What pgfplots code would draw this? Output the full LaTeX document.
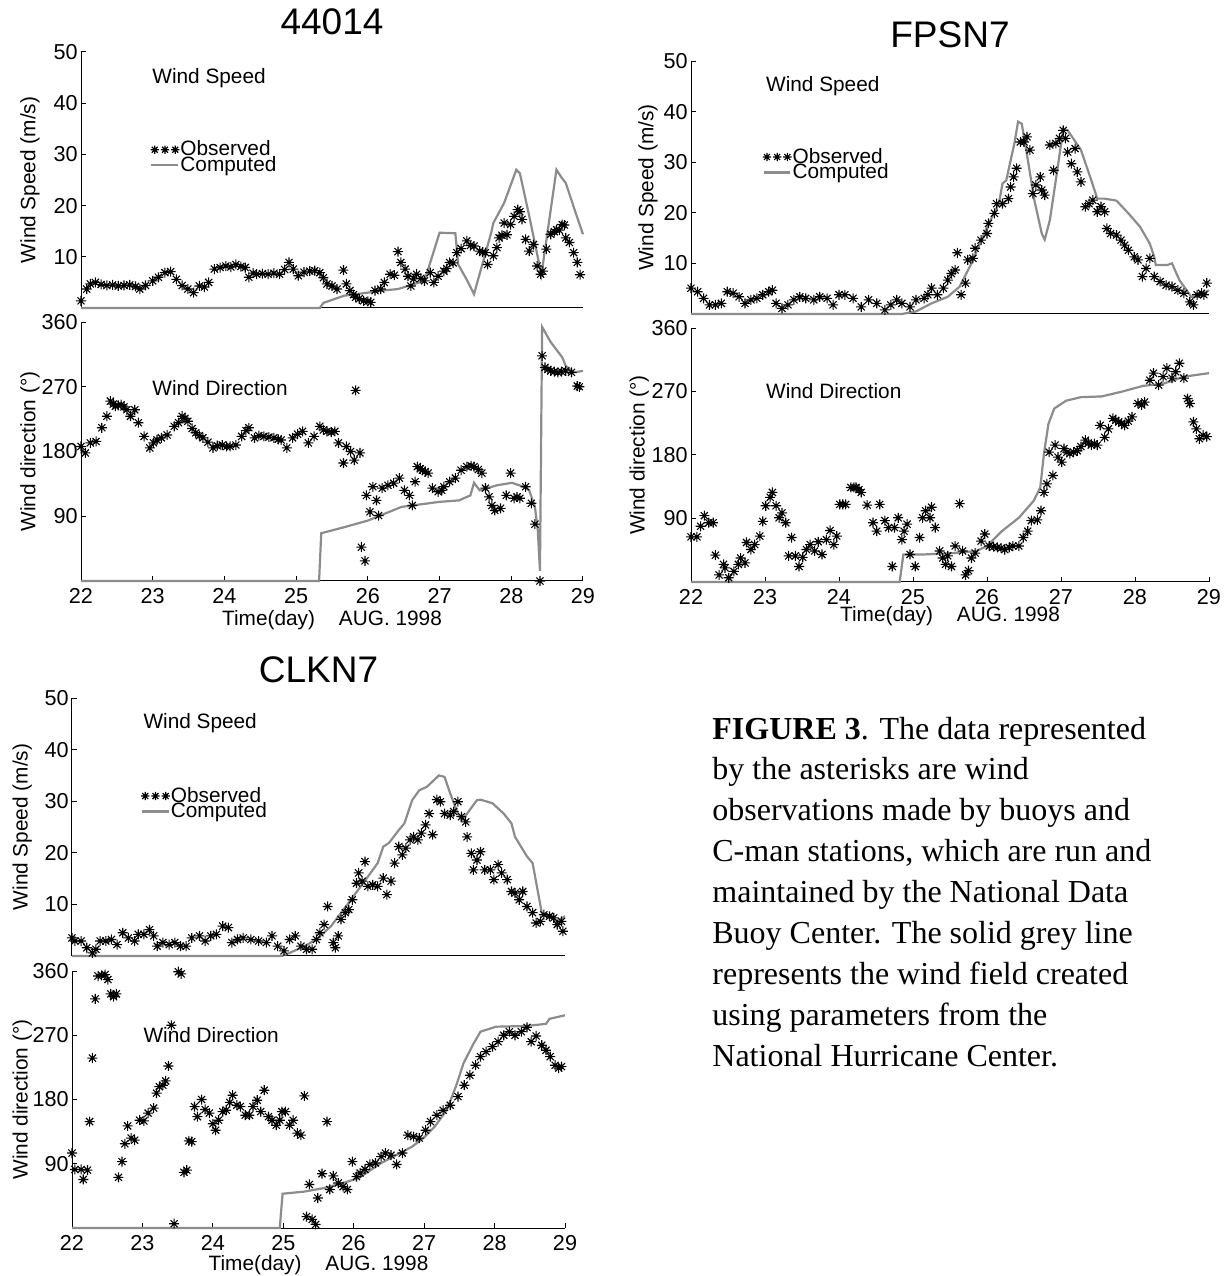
\documentclass[border=0pt]{standalone}
\usepackage{pgfplots}
\pgfplotsset{compat=1.18}
\usepackage{fontspec}
\setmainfont{Liberation Sans}
\newfontfamily\capfont{Liberation Serif}
\definecolor{compgray}{RGB}{140,140,140}
\newcommand{\ticklab}{\fontsize{10.8}{12}\selectfont}
\newcommand{\lab}{\fontsize{10.4}{12}\selectfont}
\newcommand{\ttl}{\fontsize{18.5}{20}\selectfont}
\pgfdeclareplotmark{mstar}{%
 \pgfpathmoveto{\pgfqpoint{-\pgfplotmarksize}{0pt}}\pgfpathlineto{\pgfqpoint{\pgfplotmarksize}{0pt}}%
 \pgfpathmoveto{\pgfqpoint{0pt}{-\pgfplotmarksize}}\pgfpathlineto{\pgfqpoint{0pt}{\pgfplotmarksize}}%
 \pgfpathmoveto{\pgfqpoint{-.7071\pgfplotmarksize}{-.7071\pgfplotmarksize}}\pgfpathlineto{\pgfqpoint{.7071\pgfplotmarksize}{.7071\pgfplotmarksize}}%
 \pgfpathmoveto{\pgfqpoint{-.7071\pgfplotmarksize}{.7071\pgfplotmarksize}}\pgfpathlineto{\pgfqpoint{.7071\pgfplotmarksize}{-.7071\pgfplotmarksize}}%
 \pgfusepathqstroke}
\begin{document}
\begin{tikzpicture}
\useasboundingbox (0pt,0pt) rectangle (613.5pt,638pt);
\pgfplotsset{
  common/.style={scale only axis, xmin=22, xmax=29,
    axis x line*=bottom, axis y line*=left,
    axis line style={-, line width=0.5pt, black},
    tick align=inside, major tick length=2.5pt,
    tick style={black, line width=0.5pt},
    clip=false,
    tick label style={font=\ticklab},
    /pgf/number format/assume math mode=true,
    yticklabel style={inner sep=1.5pt},
    label style={font=\lab},
    every axis title shift=0pt,
  },
  speed/.style={common, ymin=0, ymax=50, ytick={10,20,30,40,50}, xtick=\empty,
    ylabel={Wind Speed (m/s)}},
  dir/.style={common, ymin=0, ymax=360, ytick={90,180,270,360}, xtick={22,23,24,25,26,27,28,29},
    ylabel={Wind direction (°)}, xlabel={Time(day)\hspace{12pt}AUG. 1998}},
  obs/.style={only marks, mark=mstar, mark size=2.5pt, black, mark options={line width=0.55pt},
    legend image code/.code={\draw[mark repeat=1,mark phase=1,mark size=2.1pt] plot coordinates {(0.06cm,0cm) (0.24cm,0cm) (0.42cm,0cm)};}},
  comp/.style={no markers, compgray, line width=1.1pt,
    legend image code/.code={\draw[compgray, line width=1.1pt] (0cm,0cm) -- (0.47cm,0cm);}},
  leg/.style={legend style={draw=none, fill=none, at={#1}, anchor=west, font=\lab,
    row sep=-2.3pt, inner sep=0pt, nodes={inner sep=0.5pt}, column sep=0pt}, legend cell align=left},
}
% ===================== 44014 =====================
\begin{axis}[speed, at={(40.5pt,484pt)}, anchor=south west, width=251pt, height=128pt,
  ylabel style={at={(axis description cs:-0.1016,0.5)}, anchor=center},
  title={44014}, title style={at={(axis description cs:0.5,1)}, anchor=center, yshift=15pt, font=\ttl},
  leg={(axis cs:22.96,29.4)}]
\addplot[obs] coordinates {(22.0,1.4) (22.08,3.7) (22.13,4.7) (22.2,5.0) (22.28,4.6) (22.36,4.4) (22.44,4.5) (22.52,4.3) (22.6,4.4) (22.68,4.5) (22.76,4.2) (22.82,3.7) (22.9,4.4) (23.0,5.3) (23.08,6.0) (23.17,6.9) (23.25,7.1) (23.33,5.6) (23.41,4.4) (23.49,3.7) (23.57,3.0) (23.65,4.3) (23.72,4.1) (23.78,5.0) (23.86,7.6) (23.94,7.9) (24.02,8.2) (24.09,8.0) (24.16,8.5) (24.23,8.1) (24.29,7.9) (24.34,6.0) (24.4,6.8) (24.45,6.6) (24.53,6.7) (24.61,6.6) (24.69,6.8) (24.77,6.6) (24.84,7.5) (24.9,8.9) (24.96,7.6) (25.03,6.3) (25.11,7.0) (25.19,7.2) (25.26,7.3) (25.33,6.9) (25.38,5.9) (25.43,4.7) (25.5,4.3) (25.57,3.7) (25.66,7.4) (25.7,4.7) (25.75,3.4) (25.8,2.6) (25.83,2.1) (25.88,1.8) (25.94,1.4) (26.0,1.3) (26.04,1.1) (26.1,3.4) (26.18,3.7) (26.23,5.0) (26.31,6.6) (26.37,6.4) (26.42,11.0) (26.46,8.9) (26.52,7.6) (26.56,6.2) (26.6,4.3) (26.64,5.7) (26.68,6.6) (26.74,5.8) (26.79,5.3) (26.87,6.9) (26.92,5.0) (26.98,6.2) (27.06,7.2) (27.1,7.7) (27.14,8.9) (27.19,8.8) (27.24,10.8) (27.3,11.6) (27.38,13.1) (27.43,12.2) (27.48,12.1) (27.56,11.1) (27.6,10.9) (27.64,10.8) (27.67,8.5) (27.75,10.2) (27.8,11.8) (27.83,13.7) (27.87,14.2) (27.9,16.6) (27.94,14.3) (27.99,16.3) (28.04,17.9) (28.09,19.2) (28.12,18.8) (28.15,17.3) (28.2,13.4) (28.25,11.1) (28.31,12.4) (28.36,8.2) (28.41,6.6) (28.44,7.2) (28.49,11.5) (28.55,14.4) (28.6,14.9) (28.63,15.3) (28.67,15.2) (28.71,16.3) (28.74,16.2) (28.76,13.7) (28.81,12.8) (28.87,10.8) (28.92,8.9) (28.96,6.5)};
\addlegendentry{Observed}
\addplot[comp] coordinates {(22,0) (25.33,0) (25.38,1.0) (25.67,2.4) (26.0,3.0) (26.2,3.4) (26.42,3.7) (26.79,5.3) (27.0,14.7) (27.22,14.6) (27.26,8.5) (27.38,5.5) (27.48,2.7) (27.72,14.7) (27.75,16.6) (27.9,20.5) (28.07,27.0) (28.12,26.3) (28.25,18.0) (28.42,6.5) (28.63,27.0) (28.7,25.5) (28.76,24.4) (28.9,18.5) (29.0,14.4)};
\addlegendentry{Computed}
\node[anchor=west, inner sep=0pt, font=\lab] at (axis cs:22.99,44.9) {Wind Speed};
\end{axis}
\begin{axis}[dir, at={(40.5pt,347.5pt)}, anchor=south west, width=251pt, height=129.5pt,
  ylabel style={at={(axis description cs:-0.1016,0.5)}, anchor=center},
  xlabel style={at={(axis description cs:0.5,-0.15)}, anchor=center}]
\addplot[obs] coordinates {(22.0,187) (22.06,178) (22.13,192) (22.21,194) (22.29,213) (22.36,229) (22.41,250) (22.45,246) (22.48,243) (22.52,244) (22.56,245) (22.6,242) (22.64,238) (22.69,229) (22.75,238) (22.8,220) (22.88,201) (22.96,185) (23.01,192) (23.06,196) (23.12,199) (23.2,203) (23.3,215) (23.36,220) (23.41,229) (23.45,226) (23.49,222) (23.55,212) (23.6,206) (23.65,202) (23.7,199) (23.77,193) (23.84,185) (23.9,188) (23.97,189) (24.03,187) (24.08,187) (24.16,189) (24.24,201) (24.3,209) (24.34,213) (24.42,199) (24.48,202) (24.55,201) (24.62,200) (24.69,199) (24.75,197) (24.79,196) (24.87,185) (24.95,199) (25.02,204) (25.09,208) (25.17,192) (25.25,201) (25.33,215) (25.38,210) (25.43,208) (25.49,207) (25.54,208) (25.59,192) (25.66,164) (25.7,187) (25.76,180) (25.81,168) (25.83,265) (25.89,178) (25.91,47) (25.96,28) (25.98,119) (26.03,96) (26.07,131) (26.12,112) (26.15,91) (26.2,129) (26.28,133) (26.36,136) (26.44,143) (26.51,126) (26.58,119) (26.62,105) (26.66,138) (26.69,159) (26.73,156) (26.76,154) (26.8,152) (26.84,150) (26.9,129) (26.98,124) (27.03,126) (27.06,131) (27.14,138) (27.22,143) (27.3,154) (27.38,159) (27.44,160) (27.48,159) (27.54,155) (27.59,150) (27.64,129) (27.69,117) (27.73,105) (27.77,98) (27.85,101) (27.93,119) (27.99,150) (28.04,115) (28.08,117) (28.12,115) (28.2,131) (28.28,108) (28.33,79) (28.4,0) (28.43,313) (28.47,297) (28.51,294) (28.55,292) (28.6,291) (28.65,290) (28.7,291) (28.76,292) (28.84,290) (28.92,271) (28.95,270)};
\addplot[comp] coordinates {(22,0) (25.32,0) (25.35,66.4) (25.67,74.8) (26.0,84) (26.47,103) (27.0,110) (27.27,112) (27.43,119) (27.48,136.5) (27.56,126) (27.8,133) (28.01,136.5) (28.17,131) (28.25,126) (28.33,103) (28.37,70) (28.4,14) (28.43,353) (28.55,332) (28.71,311) (28.76,299) (28.87,290) (29.0,292)};
\node[anchor=west, inner sep=0pt, font=\lab] at (axis cs:22.99,268) {Wind Direction};
\end{axis}
% ===================== FPSN7 =====================
\begin{axis}[speed, at={(345.5pt,481pt)}, anchor=south west, width=259pt, height=126.5pt,
  ylabel style={at={(axis description cs:-0.083,0.5)}, anchor=center},
  title={FPSN7}, title style={at={(axis description cs:0.5,1)}, anchor=center, yshift=13pt, font=\ttl},
  leg={(axis cs:22.96,29.5)}]
\addplot[obs] coordinates {(22.0,5.1) (22.09,4.4) (22.17,3.1) (22.25,1.8) (22.33,1.8) (22.41,2.1) (22.49,4.4) (22.57,4.1) (22.65,3.4) (22.73,2.1) (22.81,2.8) (22.89,3.1) (22.97,3.8) (23.05,4.4) (23.1,4.7) (23.15,2.1) (23.23,1.1) (23.31,1.8) (23.39,2.8) (23.47,3.4) (23.55,3.1) (23.66,2.8) (23.74,3.4) (23.84,3.1) (23.92,1.8) (24.0,3.8) (24.08,3.8) (24.19,3.1) (24.3,1.4) (24.4,2.8) (24.51,2.1) (24.62,0.8) (24.7,1.8) (24.78,2.8) (24.85,2.1) (24.96,1.4) (25.04,2.8) (25.15,3.1) (25.2,3.8) (25.25,5.1) (25.33,3.8) (25.41,5.1) (25.47,6.7) (25.52,8.0) (25.57,8.7) (25.6,12.1) (25.65,3.8) (25.71,6.1) (25.74,10.7) (25.81,11.0) (25.84,13.0) (25.92,14.6) (26.0,15.9) (26.02,17.9) (26.1,19.9) (26.13,21.8) (26.21,21.8) (26.29,22.8) (26.32,25.1) (26.36,27.1) (26.4,28.8) (26.45,34.0) (26.5,34.0) (26.54,35.0) (26.58,32.4) (26.62,23.8) (26.66,25.5) (26.72,27.1) (26.74,24.5) (26.78,23.5) (26.85,33.4) (26.9,28.4) (26.93,33.7) (26.98,34.7) (27.03,36.3) (27.06,34.7) (27.09,32.0) (27.14,29.7) (27.19,32.7) (27.22,28.1) (27.27,26.1) (27.33,21.2) (27.38,21.8) (27.43,22.5) (27.49,20.2) (27.54,21.2) (27.59,20.2) (27.62,16.9) (27.67,15.9) (27.75,15.6) (27.81,14.6) (27.86,13.6) (27.91,12.6) (27.99,11.3) (28.04,10.7) (28.1,7.4) (28.15,9.0) (28.2,11.0) (28.26,7.4) (28.34,6.4) (28.42,5.7) (28.5,5.4) (28.58,4.7) (28.66,4.1) (28.74,2.4) (28.79,1.8) (28.84,3.8) (28.9,4.1) (28.93,3.8) (28.97,6.1)};
\addlegendentry{Observed}
\addplot[comp] coordinates {(22,0) (24.85,0) (25.04,0.5) (25.25,2.1) (25.47,3.4) (25.63,5.4) (25.79,10.0) (26.0,17.2) (26.16,21.8) (26.21,25.8) (26.26,26.4) (26.37,33.7) (26.42,38.0) (26.47,37.6) (26.53,32.4) (26.64,22.5) (26.74,15.9) (26.78,14.7) (26.85,18.6) (26.95,28.4) (27.03,36.6) (27.09,36.3) (27.27,32.4) (27.41,26.4) (27.49,22.8) (27.59,22.8) (27.75,22.4) (27.91,19.9) (28.07,17.2) (28.2,13.9) (28.26,11.3) (28.28,9.7) (28.44,9.7) (28.5,10.0) (28.6,6.7) (28.76,3.4) (28.87,3.4) (29.0,4.7)};
\addlegendentry{Computed}
\node[anchor=west, inner sep=0pt, font=\lab] at (axis cs:23.01,45.1) {Wind Speed};
\end{axis}
\begin{axis}[dir, at={(345.5pt,347pt)}, anchor=south west, width=259pt, height=127pt,
  ylabel style={at={(axis description cs:-0.1,0.5)}, anchor=center},
  xlabel style={at={(axis description cs:0.5,-0.135)}, anchor=center}]
\addplot[obs] coordinates {(22.0,64) (22.08,64) (22.13,79) (22.18,94) (22.24,84) (22.3,84) (22.33,38) (22.38,10) (22.44,25) (22.46,20) (22.51,6) (22.58,15) (22.64,25) (22.67,34) (22.73,27) (22.75,56) (22.81,46) (22.86,53) (22.93,65) (22.97,86) (23.01,108) (23.07,120) (23.1,127) (23.15,108) (23.19,91) (23.23,98) (23.28,84) (23.32,37) (23.36,63) (23.41,37) (23.46,22) (23.51,35) (23.56,46) (23.61,53) (23.67,44) (23.72,57) (23.77,39) (23.83,60) (23.88,73) (23.93,53) (23.97,65) (24.01,110) (24.05,110) (24.09,110) (24.16,134) (24.2,134) (24.23,134) (24.27,131) (24.3,127) (24.38,109) (24.46,84) (24.51,72) (24.55,110) (24.62,87) (24.67,77) (24.72,22) (24.75,77) (24.8,91) (24.85,60) (24.88,72) (24.92,82) (24.96,39) (25.03,22) (25.09,63) (25.13,91) (25.17,101) (25.23,91) (25.25,106) (25.3,77) (25.36,44) (25.4,34) (25.44,25) (25.47,37) (25.52,22) (25.57,51) (25.63,111) (25.67,44) (25.71,10) (25.75,16) (25.79,34) (25.84,41) (25.92,58) (25.97,68) (26.03,51) (26.09,50) (26.14,49) (26.19,48) (26.24,46) (26.3,49) (26.35,51) (26.43,51) (26.49,63) (26.55,72) (26.6,87) (26.68,88) (26.73,101) (26.77,127) (26.81,139) (26.84,184) (26.89,151) (26.92,194) (26.96,177) (27.01,170) (27.04,189) (27.08,184) (27.12,182) (27.17,184) (27.22,186) (27.27,192) (27.33,201) (27.37,197) (27.41,194) (27.45,196) (27.49,194) (27.53,222) (27.59,205) (27.64,217) (27.7,232) (27.74,229) (27.78,227) (27.82,225) (27.86,222) (27.91,228) (27.96,234) (28.04,253) (28.09,251) (28.13,255) (28.2,286) (28.25,296) (28.32,279) (28.38,291) (28.43,303) (28.5,289) (28.55,298) (28.6,310) (28.66,289) (28.71,260) (28.74,253) (28.79,227) (28.83,217) (28.87,203) (28.92,208) (28.97,206)};
\addplot[comp] coordinates {(22,0) (24.82,0) (24.87,39) (25.14,39) (25.55,41) (25.86,44) (26.0,51) (26.2,72) (26.43,91) (26.63,115) (26.72,134) (26.77,182) (26.83,224) (26.91,246) (27.07,257) (27.27,262) (27.55,263) (27.83,270) (28.11,278) (28.38,281) (28.66,291) (29.0,296)};
\node[anchor=west, inner sep=0pt, font=\lab] at (axis cs:23.01,270.7) {Wind Direction};
\end{axis}
% ===================== CLKN7 =====================
\begin{axis}[speed, at={(36pt,160pt)}, anchor=south west, width=246.5pt, height=129pt,
  ylabel style={at={(axis description cs:-0.101,0.5)}, anchor=center},
  title={CLKN7}, title style={at={(axis description cs:0.5,1)}, anchor=center, yshift=14pt, font=\ttl},
  leg={(axis cs:22.97,29.5)}]
\addplot[obs] coordinates {(22.0,3.5) (22.04,2.9) (22.13,2.9) (22.21,1.6) (22.29,0.6) (22.34,1.3) (22.4,2.9) (22.48,2.9) (22.56,3.2) (22.64,2.2) (22.72,4.5) (22.8,3.5) (22.89,2.9) (22.94,4.2) (23.02,4.2) (23.1,5.1) (23.16,3.9) (23.21,1.9) (23.29,2.6) (23.38,2.2) (23.46,2.6) (23.54,1.9) (23.62,1.9) (23.7,3.5) (23.81,3.9) (23.89,2.9) (23.97,3.9) (24.05,4.2) (24.14,5.8) (24.22,5.5) (24.27,2.6) (24.35,3.2) (24.43,3.5) (24.54,3.2) (24.65,2.9) (24.76,2.6) (24.84,3.9) (24.92,1.9) (25.01,1.0) (25.09,3.2) (25.17,3.9) (25.25,1.9) (25.33,1.3) (25.41,1.3) (25.47,3.2) (25.52,4.5) (25.58,6.1) (25.63,9.6) (25.71,2.6) (25.74,1.6) (25.78,3.9) (25.82,7.1) (25.88,8.4) (25.93,9.0) (25.98,10.9) (26.04,14.1) (26.07,16.1) (26.12,14.5) (26.16,18.3) (26.2,13.5) (26.27,13.8) (26.34,13.5) (26.42,15.1) (26.47,11.9) (26.53,14.5) (26.58,18.0) (26.64,21.2) (26.69,19.6) (26.74,20.9) (26.8,22.5) (26.85,23.1) (26.91,22.5) (26.96,23.8) (27.02,25.4) (27.07,27.6) (27.12,23.5) (27.18,30.3) (27.23,29.9) (27.29,27.6) (27.37,27.3) (27.42,28.0) (27.48,29.9) (27.53,27.0) (27.59,26.0) (27.61,23.1) (27.67,19.9) (27.7,16.7) (27.75,18.6) (27.8,20.2) (27.86,16.7) (27.94,16.7) (27.99,14.8) (28.05,17.7) (28.1,16.1) (28.18,14.8) (28.24,12.5) (28.29,12.2) (28.35,10.9) (28.4,12.5) (28.46,9.6) (28.54,8.4) (28.59,6.4) (28.65,6.7) (28.7,8.0) (28.78,7.7) (28.84,7.4) (28.89,6.1) (28.95,6.7) (28.97,4.8)};
\addlegendentry{Observed}
\addplot[comp] coordinates {(22,0) (24.98,0) (25.09,0.6) (25.3,1.9) (25.47,3.2) (25.68,5.8) (25.96,10.9) (26.17,14.8) (26.34,18.0) (26.42,21.2) (26.5,21.9) (26.64,24.4) (26.72,25.7) (26.83,30.2) (26.93,32.1) (27.04,32.8) (27.21,35.0) (27.29,34.7) (27.37,31.5) (27.48,27.6) (27.53,26.3) (27.61,27.6) (27.75,30.2) (27.8,30.3) (27.97,29.6) (28.13,27.6) (28.24,25.7) (28.29,23.1) (28.46,19.3) (28.54,18.0) (28.67,8.4) (28.78,7.7) (28.89,6.7) (29.0,7.7)};
\addlegendentry{Computed}
\node[anchor=west, inner sep=0pt, font=\lab] at (axis cs:23.01,45.2) {Wind Speed};
\end{axis}
\begin{axis}[dir, at={(36pt,24pt)}, anchor=south west, width=246.5pt, height=128.5pt,
  ylabel style={at={(axis description cs:-0.101,0.5)}, anchor=center},
  xlabel style={at={(axis description cs:0.5,-0.144)}, anchor=center}]
\addplot[obs] coordinates {(22.0,105) (22.04,82) (22.13,82) (22.16,68) (22.22,81) (22.25,149) (22.29,238) (22.33,321) (22.37,353) (22.42,354) (22.47,355) (22.51,348) (22.55,328) (22.59,324) (22.63,328) (22.66,71) (22.71,93) (22.75,118) (22.79,143) (22.84,126) (22.89,123) (22.96,151) (23.02,150) (23.08,161) (23.16,168) (23.2,189) (23.24,198) (23.29,200) (23.33,206) (23.37,227) (23.41,284) (23.45,6) (23.51,359) (23.55,356) (23.59,78) (23.63,81) (23.66,122) (23.7,121) (23.74,170) (23.78,156) (23.84,180) (23.89,166) (23.95,161) (24.0,146) (24.04,137) (24.08,151) (24.14,163) (24.19,165) (24.24,176) (24.28,186) (24.34,172) (24.39,170) (24.46,158) (24.52,158) (24.57,170) (24.63,179) (24.68,163) (24.73,193) (24.79,156) (24.84,151) (24.9,144) (24.95,151) (24.98,163) (25.03,163) (25.09,144) (25.14,151) (25.2,133) (25.25,130) (25.3,185) (25.33,16) (25.37,61) (25.41,12) (25.46,5) (25.49,42) (25.55,76) (25.62,149) (25.66,54) (25.71,73) (25.78,63) (25.85,58) (25.91,54) (25.98,93) (26.04,72) (26.09,77) (26.16,82) (26.23,89) (26.31,91) (26.39,100) (26.45,105) (26.53,102) (26.61,89) (26.69,105) (26.77,130) (26.85,128) (26.93,126) (27.02,137) (27.09,149) (27.18,158) (27.27,165) (27.37,172) (27.48,184) (27.57,200) (27.65,214) (27.73,228) (27.8,240) (27.88,247) (27.97,254) (28.05,261) (28.13,270) (28.21,275) (28.29,270) (28.38,275) (28.46,281) (28.52,261) (28.59,269) (28.67,256) (28.73,249) (28.79,240) (28.86,228) (28.91,224) (28.95,226)};
\addplot[comp] coordinates {(22,0) (24.95,0) (24.99,48) (25.3,51) (25.58,56) (25.85,63) (26.07,70) (26.39,91) (26.66,105) (26.83,114) (26.99,126) (27.15,142) (27.32,165) (27.45,198) (27.56,231) (27.7,258) (27.8,275) (28.02,282) (28.46,283) (28.73,286) (28.78,293) (29.0,298)};
\node[anchor=west, inner sep=0pt, font=\lab] at (axis cs:23.01,270.3) {Wind Direction};
\end{axis}
% ===================== caption =====================
\begin{scope}[every node/.style={anchor=base west, inner sep=0pt, font=\capfont\fontsize{16}{20}\selectfont}]
\node at (356pt,268pt) {\textbf{FIGURE 3}. The data represented};
\node at (356pt,248pt) {by the asterisks are wind};
\node at (356pt,227.5pt) {observations made by buoys and};
\node at (356pt,207pt) {C-man stations, which are run and};
\node at (356pt,186.5pt) {maintained by the National Data};
\node at (356pt,166pt) {Buoy Center. The solid grey line};
\node at (356pt,145.5pt) {represents the wind field created};
\node at (356pt,125pt) {using parameters from the};
\node at (356pt,104.5pt) {National Hurricane Center.};
\end{scope}
\end{tikzpicture}
\end{document}
